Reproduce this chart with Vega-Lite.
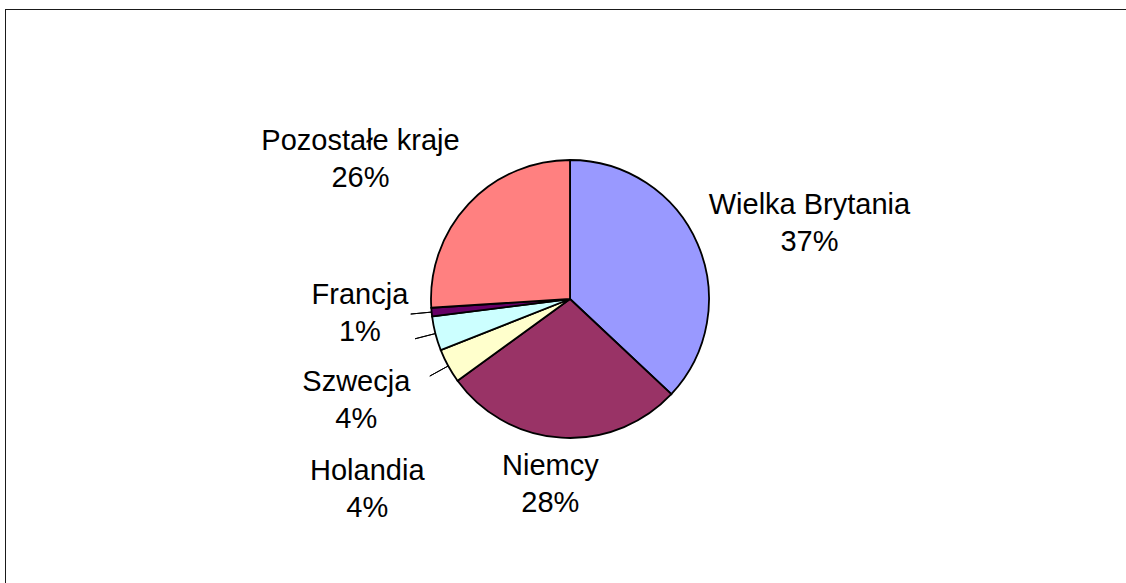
{
  "$schema": "https://vega.github.io/schema/vega-lite/v6.json",
  "width": 1121,
  "height": 574,
  "autosize": {"type": "none"},
  "padding": {"left": 5, "top": 9, "right": 0, "bottom": 0},
  "background": "white",
  "view": {"stroke": null},
  "data": {
    "values": [
      {"country": "Wielka Brytania", "share": 37, "nr": 1},
      {"country": "Niemcy", "share": 28, "nr": 2},
      {"country": "Holandia", "share": 4, "nr": 3},
      {"country": "Szwecja", "share": 4, "nr": 4},
      {"country": "Francja", "share": 1, "nr": 5},
      {"country": "Pozostałe kraje", "share": 26, "nr": 6}
    ]
  },
  "transform": [{"calculate": "datum.country + '\\n' + datum.share + '%'", "as": "label"}],
  "layer": [
    {
      "mark": {"type": "rule", "stroke": "#1a1a1a", "strokeWidth": 1, "yOffset": 0.5},
      "encoding": {"y": {"value": 0}}
    },
    {
      "mark": {"type": "rule", "stroke": "#1a1a1a", "strokeWidth": 1, "xOffset": 0.5},
      "encoding": {"x": {"value": 0}}
    },
    {
      "mark": {"type": "arc", "outerRadius": 139, "stroke": "black", "strokeWidth": 1.8, "xOffset": 4.5, "yOffset": 3},
      "encoding": {
        "theta": {"field": "share", "type": "quantitative", "stack": true},
        "order": {"field": "nr", "type": "quantitative"},
        "color": {
          "field": "country",
          "type": "nominal",
          "scale": {
            "domain": ["Wielka Brytania", "Niemcy", "Holandia", "Szwecja", "Francja", "Pozostałe kraje"],
            "range": ["#9999FF", "#993366", "#FFFFCC", "#CCFFFF", "#660066", "#FF8080"]
          },
          "legend": null
        }
      }
    },
    {
      "mark": {"type": "arc", "outerRadius": 160, "innerRadius": 139, "padAngle": 3, "fillOpacity": 0, "stroke": "black", "strokeWidth": 1, "xOffset": 4.5, "yOffset": 3},
      "encoding": {
        "theta": {"field": "share", "type": "quantitative", "stack": true},
        "order": {"field": "nr", "type": "quantitative"},
        "strokeOpacity": {"condition": {"test": "datum.share < 5", "value": 1}, "value": 0}
      }
    },
    {
      "mark": {"type": "text", "radius": 250, "dx": 14.5, "dy": 8, "font": "Liberation Sans", "fontSize": 29, "lineHeight": 37, "lineBreak": "\n", "align": "center", "baseline": "middle", "color": "black"},
      "encoding": {
        "theta": {"field": "share", "type": "quantitative", "stack": true},
        "order": {"field": "nr", "type": "quantitative"},
        "text": {"condition": {"test": "datum.country === 'Wielka Brytania'", "field": "label", "type": "nominal"}, "value": ""}
      }
    },
    {
      "mark": {"type": "text", "radius": 185, "dx": -3.5, "dy": -15, "font": "Liberation Sans", "fontSize": 29, "lineHeight": 37, "lineBreak": "\n", "align": "center", "baseline": "middle", "color": "black"},
      "encoding": {
        "theta": {"field": "share", "type": "quantitative", "stack": true},
        "order": {"field": "nr", "type": "quantitative"},
        "text": {"condition": {"test": "datum.country === 'Niemcy'", "field": "label", "type": "nominal"}, "value": ""}
      }
    },
    {
      "mark": {"type": "text", "radius": 269, "dx": 37.5, "dy": 45, "font": "Liberation Sans", "fontSize": 29, "lineHeight": 37, "lineBreak": "\n", "align": "center", "baseline": "middle", "color": "black"},
      "encoding": {
        "theta": {"field": "share", "type": "quantitative", "stack": true},
        "order": {"field": "nr", "type": "quantitative"},
        "text": {"condition": {"test": "datum.country === 'Holandia'", "field": "label", "type": "nominal"}, "value": ""}
      }
    },
    {
      "mark": {"type": "text", "radius": 232, "dx": 15.5, "dy": 28, "font": "Liberation Sans", "fontSize": 29, "lineHeight": 37, "lineBreak": "\n", "align": "center", "baseline": "middle", "color": "black"},
      "encoding": {
        "theta": {"field": "share", "type": "quantitative", "stack": true},
        "order": {"field": "nr", "type": "quantitative"},
        "text": {"condition": {"test": "datum.country === 'Szwecja'", "field": "label", "type": "nominal"}, "value": ""}
      }
    },
    {
      "mark": {"type": "text", "radius": 211, "dx": 4.5, "dy": -21, "font": "Liberation Sans", "fontSize": 29, "lineHeight": 37, "lineBreak": "\n", "align": "center", "baseline": "middle", "color": "black"},
      "encoding": {
        "theta": {"field": "share", "type": "quantitative", "stack": true},
        "order": {"field": "nr", "type": "quantitative"},
        "text": {"condition": {"test": "datum.country === 'Francja'", "field": "label", "type": "nominal"}, "value": ""}
      }
    },
    {
      "mark": {"type": "text", "radius": 249, "dx": -23.5, "dy": 15, "font": "Liberation Sans", "fontSize": 29, "lineHeight": 37, "lineBreak": "\n", "align": "center", "baseline": "middle", "color": "black"},
      "encoding": {
        "theta": {"field": "share", "type": "quantitative", "stack": true},
        "order": {"field": "nr", "type": "quantitative"},
        "text": {"condition": {"test": "datum.country === 'Pozostałe kraje'", "field": "label", "type": "nominal"}, "value": ""}
      }
    }
  ]
}
